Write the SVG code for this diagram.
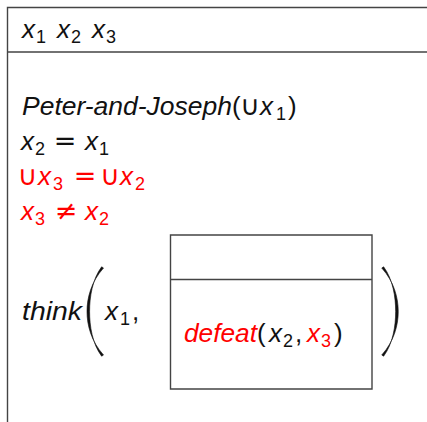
<svg xmlns="http://www.w3.org/2000/svg" width="427" height="422" viewBox="0 0 427 422">
<style>
text{font-family:"Liberation Sans","DejaVu Sans",sans-serif;font-size:26px;fill:#111}
.i{font-style:italic}
.s{font-size:18px;font-style:normal}
.r{fill:#ff0000}
.op{font-family:"DejaVu Sans","Liberation Sans",sans-serif;font-size:27px}
.box{fill:none;stroke:#444;stroke-width:1.4}
.par{fill:#111;stroke:#111;stroke-width:0.6;stroke-linejoin:round}
</style>
<defs>
<path id="lp" d="M103.5,268 C91,282 87,298 87,311.5 C87,325 91,341 103.5,355 L101.6,356.2 C92.3,343.5 89.6,326 89.6,311.5 C89.6,297 92.3,279.5 101.6,266.8 Z"/>
</defs>
<rect width="427" height="422" fill="#fff"/>
<g id="outer-drs">
<path class="box" d="M7.5,430 V7.5 H430 M7.5,52 H430"/>
<text id="universe"><tspan class="i" x="22" y="38">x</tspan><tspan class="s" x="36" y="43">1</tspan><tspan class="i" x="57" y="38">x</tspan><tspan class="s" x="71" y="43">2</tspan><tspan class="i" x="92" y="38">x</tspan><tspan class="s" x="106" y="43">3</tspan></text>
<g id="cond1"><text class="i" x="22" y="115" textLength="210" lengthAdjust="spacingAndGlyphs">Peter-and-Joseph</text><text x="232" y="115">(</text><text class="op" x="250" y="115" text-anchor="middle">∪</text><text class="i" x="260" y="115">x</text><text class="s" x="276" y="120">1</text><text x="288" y="115">)</text></g>
<g id="cond2"><text class="i" x="21" y="150">x</text><text class="s" x="35" y="155">2</text><text class="op" x="65" y="150" text-anchor="middle">=</text><text class="i" x="85" y="150">x</text><text class="s" x="99" y="155">1</text></g>
<g id="cond3"><text class="op r" x="27.5" y="185" text-anchor="middle">∪</text><text class="i r" x="38" y="185">x</text><text class="s r" x="53" y="190">3</text><text class="op r" x="85" y="185" text-anchor="middle">=</text><text class="op r" x="110" y="185" text-anchor="middle">∪</text><text class="i r" x="120" y="185">x</text><text class="s r" x="135" y="190">2</text></g>
<g id="cond4"><text class="i r" x="21" y="220">x</text><text class="s r" x="35" y="225">3</text><text class="op r" x="66" y="220" text-anchor="middle">≠</text><text class="i r" x="85" y="220">x</text><text class="s r" x="99" y="225">2</text></g>
<g id="cond5"><text class="i" x="22" y="320" textLength="60" lengthAdjust="spacingAndGlyphs">think</text><use href="#lp" class="par"/><text class="i" x="105" y="320">x</text><text class="s" x="120" y="325">1</text><text x="132" y="320">,</text><use href="#lp" class="par" transform="translate(485.25,0) scale(-1,1)"/></g>
</g>
<g id="inner-drs">
<path class="box" d="M170.5,235 H372 V389 H170.5 Z M170.5,279.5 H372"/>
<text class="i r" x="184" y="342" textLength="73" lengthAdjust="spacingAndGlyphs">defeat</text><text x="257" y="342">(</text><text class="i" x="269" y="342">x</text><text class="s" x="283" y="347">2</text><text x="295" y="342">,</text><text class="i r" x="307" y="342">x</text><text class="s r" x="321" y="347">3</text><text x="334" y="342">)</text>
</g>
</svg>
